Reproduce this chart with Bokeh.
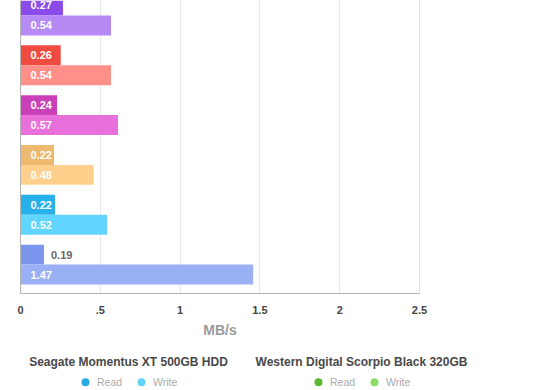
from bokeh.plotting import figure
from bokeh.models import Range1d, FixedTicker, Span, ColumnDataSource, LinearAxis
from bokeh.layouts import column
from bokeh.embed import file_html
from bokeh.resources import INLINE
from bokeh.core.properties import value

# ---------------- data (groups listed top to bottom) ----------------
read_values = [0.266, 0.252, 0.229, 0.21, 0.216, 0.147]
write_values = [0.567, 0.567, 0.611, 0.459, 0.542, 1.458]
read_labels = ["0.27", "0.26", "0.24", "0.22", "0.22", "0.19"]
write_labels = ["0.54", "0.54", "0.57", "0.48", "0.52", "1.47"]
read_colors = ["#8b4be8", "#f04b41", "#c940b8", "#edb96e", "#27b0e9", "#7b96ec"]
write_colors = ["#b58af5", "#ff8f89", "#e970da", "#ffd08c", "#62d5fe", "#9ab0f5"]

x_ticks = [0, 0.5, 1, 1.5, 2, 2.5]
x_tick_labels = ["0", ".5", "1", "1.5", "2", "2.5"]
x_axis_title = "MB/s"

legend_titles = ["Seagate Momentus XT 500GB HDD", "Western Digital Scorpio Black 320GB"]
legend_series = ["Read", "Write"]
legend_colors = [["#29a8e6", "#62d4fc"], ["#5cb82e", "#8fdc68"]]

# ---------------- layout constants ----------------
FONT = "Liberation Sans"
W = 560
MAIN_H = 340
LEG_H = 50
BORDER_L = 20
FRAME_W = 399
BORDER_R = W - BORDER_L - FRAME_W
FRAME_H = 294
UNIT_PX = 50.0          # pixels per group
BAR_H = 0.4             # each bar = 20 px
LABEL_MIN = 0.2         # bars shorter than this get their label outside

n = len(read_values)
y_top = FRAME_H / UNIT_PX
centers = [y_top - 0.3 - k for k in range(n)]

p = figure(width=W, height=MAIN_H,
           x_range=Range1d(0, x_ticks[-1]), y_range=Range1d(0, y_top),
           output_backend="svg", toolbar_location=None,
           min_border_left=BORDER_L, min_border_right=BORDER_R,
           min_border_top=0, min_border_bottom=MAIN_H - FRAME_H)
p.outline_line_color = None
p.background_fill_color = "white"
p.border_fill_color = "white"

# bars
bars = ColumnDataSource(dict(
    y=[c + BAR_H / 2 for c in centers] + [c - BAR_H / 2 for c in centers],
    right=read_values + write_values,
    color=read_colors + write_colors,
))
p.hbar(y="y", left=0, right="right", height=BAR_H, fill_color="color",
       line_color=None, source=bars)

# value labels
vals = read_values + write_values
labs = read_labels + write_labels
inside = [v >= LABEL_MIN for v in vals]
texts = ColumnDataSource(dict(
    x=[0 if ins else v for v, ins in zip(vals, inside)],
    y=bars.data["y"],
    text=labs,
    xoff=[10 if ins else 7 for ins in inside],
    tc=["white" if ins else "#666666" for ins in inside],
))
p.text(x="x", y="y", text="text", x_offset="xoff", text_color="tc",
       text_font=value(FONT), text_font_style="bold", text_font_size="11px",
       text_align="left", text_baseline="middle", source=texts)

# axes
p.xaxis.ticker = FixedTicker(ticks=x_ticks)
p.xaxis.major_label_overrides = dict(zip(x_ticks, x_tick_labels))
p.xaxis.major_tick_in = 0
p.xaxis.major_tick_out = 0
p.xaxis.minor_tick_line_color = None
p.xaxis.axis_line_color = "#b3b3b3"
p.xaxis.major_label_text_font = FONT
p.xaxis.major_label_text_font_style = "bold"
p.xaxis.major_label_text_font_size = "11px"
p.xaxis.major_label_text_color = "#444444"
p.xaxis.major_label_standoff = 12
p.xaxis.axis_label = x_axis_title
p.xaxis.axis_label_text_font = FONT
p.xaxis.axis_label_text_font_style = "bold"
p.xaxis.axis_label_text_font_size = "14px"
p.xaxis.axis_label_text_color = "#9a9a9a"
p.xaxis.axis_label_standoff = 5

p.yaxis.ticker = FixedTicker(ticks=[])
p.yaxis.major_tick_line_color = None
p.yaxis.minor_tick_line_color = None
p.yaxis.axis_line_color = "#b3b3b3"

p.ygrid.grid_line_color = None
p.xgrid.ticker = FixedTicker(ticks=x_ticks[1:-1])
p.xgrid.grid_line_color = "#e8e8e8"
p.add_layout(Span(location=x_ticks[-1], dimension="height", line_color="#bdbdbd", line_width=1))

# ---------------- legend figure (x in pixels from the frame's left edge) ----------------
LEG_FRAME_H = 20
leg = figure(width=W, height=LEG_H, x_range=Range1d(0, FRAME_W), y_range=Range1d(LEG_FRAME_H, 0),
             output_backend="svg", toolbar_location=None,
             min_border_left=BORDER_L, min_border_right=BORDER_R,
             min_border_top=LEG_H - LEG_FRAME_H, min_border_bottom=0, x_axis_location=None,
             y_axis_location=None)
leg.grid.grid_line_color = None
leg.outline_line_color = None
leg.background_fill_color = "white"
leg.border_fill_color = "white"

LEG_CENTERS = [108, 341]
ITEM_Y = 11.7
ITEM_GAP = 56
BLOCK_W = 94
DOT_R = 4
TEXT_GAP = 11.5

# group titles carried by an axis above the legend frame
title_axis = LinearAxis(ticker=FixedTicker(ticks=LEG_CENTERS),
                        major_label_overrides=dict(zip(LEG_CENTERS, legend_titles)),
                        axis_line_color=None, major_tick_line_color=None,
                        minor_tick_line_color=None, major_tick_in=0, major_tick_out=0,
                        major_label_standoff=2,
                        major_label_text_font=FONT, major_label_text_font_style="bold",
                        major_label_text_font_size="12px", major_label_text_color="#484848")
leg.add_layout(title_axis, "above")

dx, dc, tx, tt = [], [], [], []
for cx, cols in zip(LEG_CENTERS, legend_colors):
    for i, (name, col) in enumerate(zip(legend_series, cols)):
        x0 = cx - BLOCK_W / 2 + DOT_R + i * ITEM_GAP
        dx.append(x0)
        dc.append(col)
        tx.append(x0 + TEXT_GAP)
        tt.append(name)
leg.scatter(x=dx, y=[ITEM_Y] * len(dx), size=2 * DOT_R, marker="circle",
            fill_color=dc, line_color=None)
leg.text(x=tx, y=[ITEM_Y] * len(tx), text=tt, text_font=value(FONT),
         text_font_size="10.5px", text_color="#aaaaaa", text_align="left",
         text_baseline="middle")

layout = column(p, leg, spacing=0)
open("out.html", "w").write(file_html(layout, INLINE))
